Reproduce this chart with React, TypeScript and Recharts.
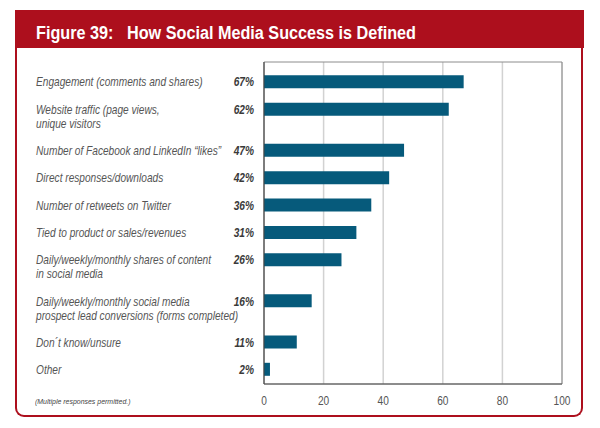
import React from 'react';
import { BarChart, Bar, XAxis, YAxis, CartesianGrid, ReferenceArea } from 'recharts';

const categories: string[][] = [
  ['Engagement (comments and shares)'],
  ['Website traffic (page views,', 'unique visitors'],
  ['Number of Facebook and LinkedIn \u201clikes\u201d'],
  ['Direct responses/downloads'],
  ['Number of retweets on Twitter'],
  ['Tied to product or sales/revenues'],
  ['Daily/weekly/monthly shares of content', 'in social media'],
  ['Daily/weekly/monthly social media', 'prospect lead conversions (forms completed)'],
  ['Don\u00b4t know/unsure'],
  ['Other'],
];
const values: number[] = [67, 62, 47, 42, 36, 31, 26, 16, 11, 2];
const xTicks: number[] = [0, 20, 40, 60, 80, 100];
const titleLabel = 'Figure 39:';
const titleText = 'How Social Media Success is Defined';
const footnote = '(Multiple responses permitted.)';

// Row slot positions derived from the number of label lines (multi-line labels take extra room)
const positions: number[] = [];
categories.reduce((acc, lines) => {
  positions.push(acc);
  return acc + 1 + 0.5 * (lines.length - 1);
}, 0);

const data = categories.map((lines, i) => ({ pos: positions[i], value: values[i] }));

const FONT = "'Liberation Sans', Arial, sans-serif";
const RED = '#ad0f1d';
const BAR = '#065a7b';
const SX = 0.845;
const Y_DOMAIN: [number, number] = [-0.73, positions[positions.length - 1] + 0.53];

const YTick = (props: any) => {
  const { x, y, payload } = props;
  const i = positions.findIndex((p) => Math.abs(p - payload.value) < 1e-6);
  if (i < 0) return null;
  const lines = categories[i];
  return (
    <g>
      {lines.map((l, k) => (
        <text
          key={k}
          transform={`translate(${x - 228},${y + 4.5 + 14 * k}) scale(${SX},1)`}
          fill="#555"
          fontSize={12}
          fontStyle="italic"
          fontFamily={FONT}
        >
          {l}
        </text>
      ))}
      <text
        transform={`translate(${x - 10},${y + 4.5}) scale(${SX},1)`}
        textAnchor="end"
        fill="#3a3a3a"
        fontSize={12}
        fontWeight="bold"
        fontStyle="italic"
        fontFamily={FONT}
      >
        {values[i]}%
      </text>
    </g>
  );
};

const XTick = (props: any) => {
  const { x, y, payload } = props;
  return (
    <text
      transform={`translate(${x},${y + 21}) scale(${SX},1)`}
      textAnchor="middle"
      fill="#555"
      fontSize={12}
      fontFamily={FONT}
    >
      {payload.value}
    </text>
  );
};

export default function App() {
  return (
    <div style={{ position: 'absolute', left: 0, top: 0, width: 600, height: 428, background: '#fff', overflow: 'hidden' }}>
      <div
        style={{
          position: 'absolute', left: 15, top: 40, width: 568, height: 377, boxSizing: 'border-box',
          border: `2px solid ${RED}`, borderTop: 'none', borderRadius: '0 0 9px 9px',
        }}
      />
      <div style={{ position: 'absolute', left: 15, top: 10, width: 569, height: 38, background: RED }} />
      <div
        style={{
          position: 'absolute', left: 36, top: 13.5, color: '#fff', fontFamily: FONT, fontWeight: 'bold',
          fontSize: 18, lineHeight: '38px', whiteSpace: 'nowrap', transform: 'scaleX(0.9)', transformOrigin: 'left center',
        }}
      >
        {titleLabel}
      </div>
      <div
        style={{
          position: 'absolute', left: 127, top: 13.5, color: '#fff', fontFamily: FONT, fontWeight: 'bold',
          fontSize: 18, lineHeight: '38px', whiteSpace: 'nowrap', transform: 'scaleX(0.9)', transformOrigin: 'left center',
        }}
      >
        {titleText}
      </div>
      <div
        style={{
          position: 'absolute', left: 35, top: 397, fontFamily: FONT, fontStyle: 'italic', fontSize: 8,
          color: '#444', whiteSpace: 'nowrap', lineHeight: '10px', transform: 'scaleX(0.87)', transformOrigin: 'left center',
        }}
      >
        {footnote}
      </div>
      <div style={{ position: 'absolute', left: 0, top: 0 }}>
        <BarChart width={600} height={428} data={data} layout="vertical" margin={{ top: 62, right: 38, bottom: 14, left: 0 }}>
          <CartesianGrid horizontal={false} stroke="#d2d2d2" strokeWidth={1.5} />
          <ReferenceArea x1={0} x2={100} y1={Y_DOMAIN[0]} y2={Y_DOMAIN[1]} fill="none" stroke="#8c8c8c" strokeWidth={1} ifOverflow="visible" />
          <XAxis
            type="number"
            domain={[0, 100]}
            ticks={xTicks}
            interval={0}
            height={30}
            axisLine={{ stroke: '#555' }}
            tickLine={false}
            tickSize={0}
            tickMargin={0}
            tick={<XTick />}
          />
          <YAxis
            type="number"
            dataKey="pos"
            domain={Y_DOMAIN}
            allowDataOverflow
            ticks={positions}
            interval={0}
            width={264}
            axisLine={{ stroke: '#444' }}
            tickLine={false}
            tickSize={0}
            tickMargin={0}
            tick={<YTick />}
          />
          <Bar dataKey="value" fill={BAR} barSize={13} isAnimationActive={false} />
        </BarChart>
      </div>
    </div>
  );
}
